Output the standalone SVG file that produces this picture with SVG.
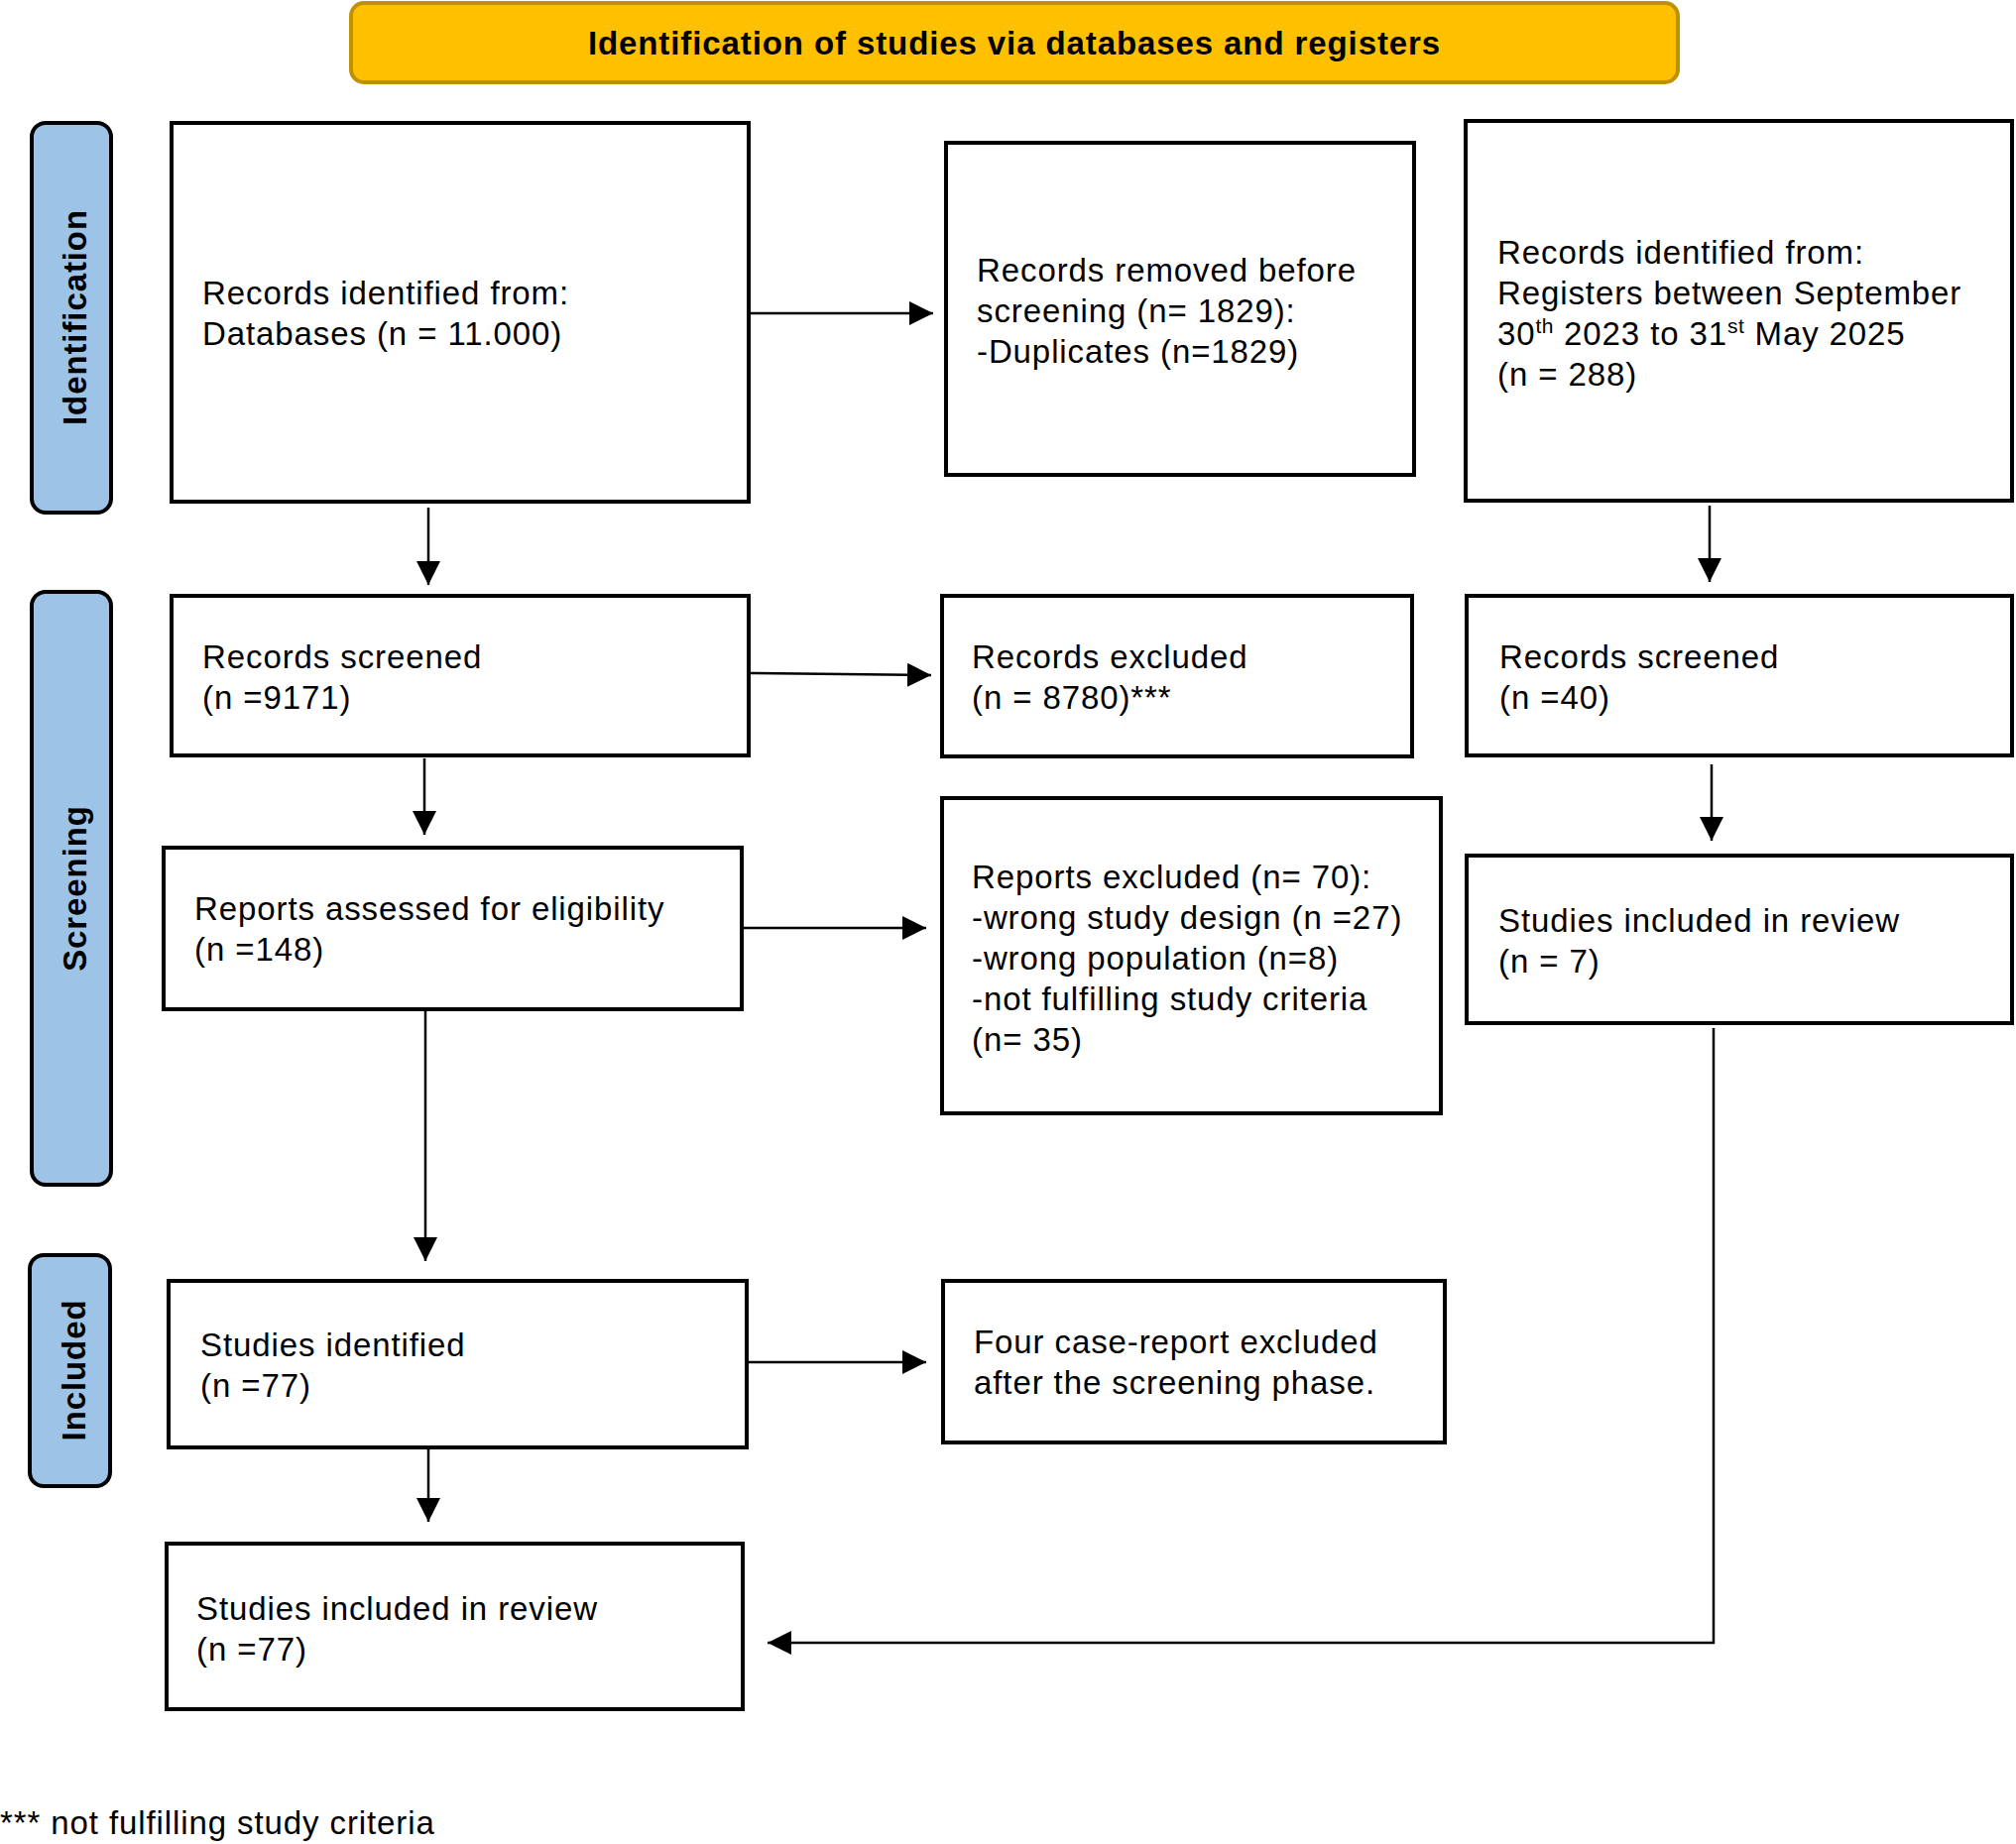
<svg xmlns="http://www.w3.org/2000/svg" width="2033" height="1860" viewBox="0 0 2033 1860">
<style>
  .box { fill: #ffffff; stroke: #000000; stroke-width: 4; }
  .lane { fill: #9DC3E6; stroke: #000000; stroke-width: 4; }
  .head { fill: #FFC000; stroke: #BF9000; stroke-width: 4; }
  .t { font-family: "Liberation Sans", Arial, sans-serif; font-size: 33px; letter-spacing: 0.9px; fill: #000000; }
  .b { font-family: "Liberation Sans", Arial, sans-serif; font-size: 33px; font-weight: bold; letter-spacing: 0.9px; fill: #000000; }
  .sup { font-size: 21px; letter-spacing: 0.5px; }
  .conn { fill: none; stroke: #000000; stroke-width: 2.5; }
</style>
<defs>
  <marker id="arrow" markerUnits="userSpaceOnUse" markerWidth="24" markerHeight="24" refX="24" refY="12" orient="auto">
    <path d="M0,0 L24,12 L0,24 Z" fill="#000000"/>
  </marker>
</defs>
<rect width="2033" height="1860" fill="#ffffff"/>

<g id="header">
  <rect class="head" x="354" y="3" width="1338" height="80" rx="13"/>
  <text class="b" x="1023" y="55" text-anchor="middle">Identification of studies via databases and registers</text>
</g>

<g id="lane-identification">
  <rect class="lane" x="32" y="124" width="80" height="393" rx="14"/>
  <text class="b" transform="translate(87,320) rotate(-90)" text-anchor="middle">Identification</text>
</g>
<g id="lane-screening">
  <rect class="lane" x="32" y="597" width="80" height="598" rx="14"/>
  <text class="b" transform="translate(87,896) rotate(-90)" text-anchor="middle">Screening</text>
</g>
<g id="lane-included">
  <rect class="lane" x="30" y="1266" width="81" height="233" rx="14"/>
  <text class="b" transform="translate(86,1382) rotate(-90)" text-anchor="middle">Included</text>
</g>

<g id="connectors">
  <path class="conn" d="M757,316 H941" marker-end="url(#arrow)"/>
  <path class="conn" d="M432,512 V590" marker-end="url(#arrow)"/>
  <path class="conn" d="M1724,510 V587" marker-end="url(#arrow)"/>
  <path class="conn" d="M757,679 L939,681" marker-end="url(#arrow)"/>
  <path class="conn" d="M428,765 V842" marker-end="url(#arrow)"/>
  <path class="conn" d="M1726,771 V848" marker-end="url(#arrow)"/>
  <path class="conn" d="M750,936 H934" marker-end="url(#arrow)"/>
  <path class="conn" d="M429,1018 V1272" marker-end="url(#arrow)"/>
  <path class="conn" d="M755,1374 H934" marker-end="url(#arrow)"/>
  <path class="conn" d="M432,1460 V1535" marker-end="url(#arrow)"/>
  <path class="conn" d="M1728,1037 V1657 H774" marker-end="url(#arrow)"/>
</g>

<g id="db-identified">
  <rect class="box" x="173" y="124" width="582" height="382"/>
  <text class="t" x="204" y="307">Records identified from:</text>
  <text class="t" x="204" y="348">Databases (n = 11.000)</text>
</g>
<g id="removed-before-screening">
  <rect class="box" x="954" y="144" width="472" height="335"/>
  <text class="t" x="985" y="284">Records removed before</text>
  <text class="t" x="985" y="325">screening (n= 1829):</text>
  <text class="t" x="985" y="366">-Duplicates (n=1829)</text>
</g>
<g id="reg-identified">
  <rect class="box" x="1478" y="122" width="551" height="383"/>
  <text class="t" x="1510" y="266">Records identified from:</text>
  <text class="t" x="1510" y="307">Registers between September</text>
  <text class="t" x="1510" y="348">30<tspan class="sup" dy="-12">th</tspan><tspan dy="12"> 2023 to 31</tspan><tspan class="sup" dy="-12">st</tspan><tspan dy="12"> May 2025</tspan></text>
  <text class="t" x="1510" y="389">(n = 288)</text>
</g>
<g id="db-screened">
  <rect class="box" x="173" y="601" width="582" height="161"/>
  <text class="t" x="204" y="674">Records screened</text>
  <text class="t" x="204" y="715">(n =9171)</text>
</g>
<g id="records-excluded">
  <rect class="box" x="950" y="601" width="474" height="162"/>
  <text class="t" x="980" y="674">Records excluded</text>
  <text class="t" x="980" y="715">(n = 8780)***</text>
</g>
<g id="reg-screened">
  <rect class="box" x="1479" y="601" width="550" height="161"/>
  <text class="t" x="1512" y="674">Records screened</text>
  <text class="t" x="1512" y="715">(n =40)</text>
</g>
<g id="reports-assessed">
  <rect class="box" x="165" y="855" width="583" height="163"/>
  <text class="t" x="196" y="928">Reports assessed for eligibility</text>
  <text class="t" x="196" y="969">(n =148)</text>
</g>
<g id="reports-excluded">
  <rect class="box" x="950" y="805" width="503" height="318"/>
  <text class="t" x="980" y="896">Reports excluded (n= 70):</text>
  <text class="t" x="980" y="937">-wrong study design (n =27)</text>
  <text class="t" x="980" y="978">-wrong population (n=8)</text>
  <text class="t" x="980" y="1019">-not fulfilling study criteria</text>
  <text class="t" x="980" y="1060">(n= 35)</text>
</g>
<g id="reg-included">
  <rect class="box" x="1479" y="863" width="550" height="169"/>
  <text class="t" x="1511" y="940">Studies included in review</text>
  <text class="t" x="1511" y="981">(n = 7)</text>
</g>
<g id="studies-identified">
  <rect class="box" x="170" y="1292" width="583" height="168"/>
  <text class="t" x="202" y="1368">Studies identified</text>
  <text class="t" x="202" y="1409">(n =77)</text>
</g>
<g id="case-report-excluded">
  <rect class="box" x="951" y="1292" width="506" height="163"/>
  <text class="t" x="982" y="1365">Four case-report excluded</text>
  <text class="t" x="982" y="1406">after the screening phase.</text>
</g>
<g id="studies-included">
  <rect class="box" x="168" y="1557" width="581" height="167"/>
  <text class="t" x="198" y="1634">Studies included in review</text>
  <text class="t" x="198" y="1675">(n =77)</text>
</g>

<g id="footnote">
  <text class="t" x="0" y="1850">*** not fulfilling study criteria</text>
</g>
</svg>
